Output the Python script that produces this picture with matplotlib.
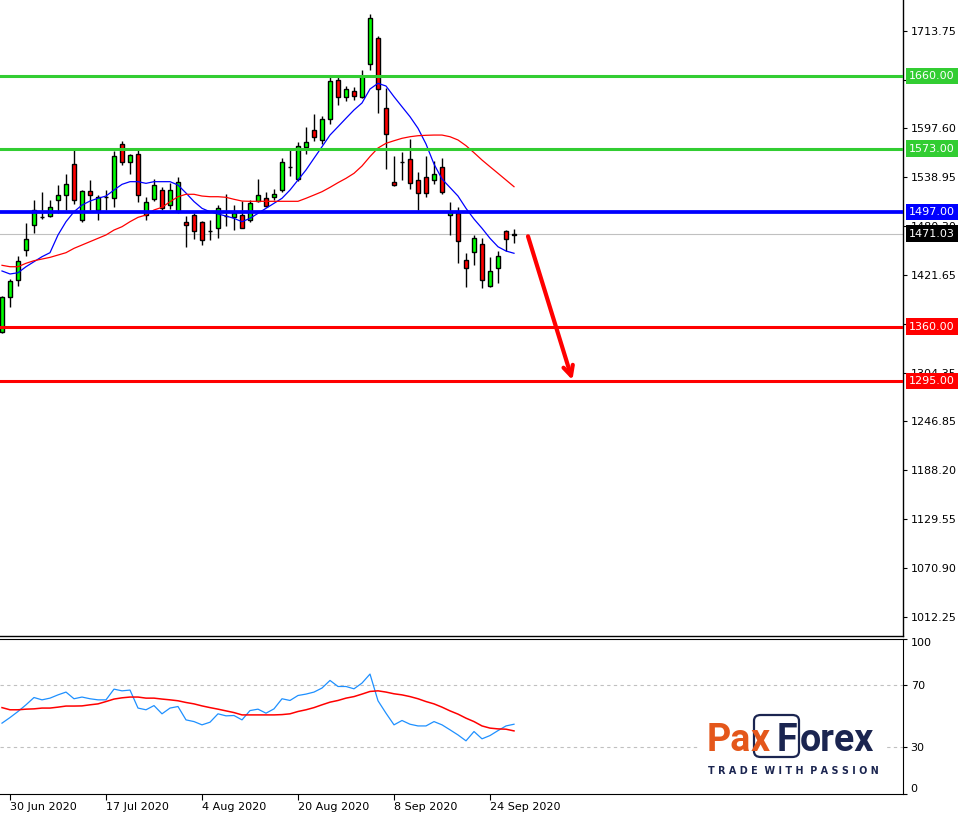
import matplotlib
matplotlib.use("Agg")
import matplotlib.pyplot as plt
import matplotlib.transforms as mtransforms
from matplotlib.patches import FancyBboxPatch, Rectangle
import numpy as np

# daily candles, 29 Jun 2020 .. 29 Sep 2020
opens = [1354, 1395, 1416, 1452, 1481, 1491, 1492, 1512, 1517, 1554,
         1487.5, 1522, 1500, 1515, 1514, 1578, 1557, 1566, 1494, 1513,
         1524, 1505, 1498, 1485, 1494, 1485, 1474, 1478, 1492, 1491.5,
         1493.5, 1487, 1510, 1514, 1514.5, 1523, 1551, 1537, 1575, 1595,
         1583, 1608, 1655, 1634.5, 1642, 1635, 1674, 1705, 1621, 1533,
         1557, 1560, 1535, 1538.5, 1535.5, 1550.5, 1493, 1496.5, 1439.5, 1449.5,
         1458.5, 1409, 1430.5, 1474, 1469]
highs = [1396, 1417, 1444, 1484, 1511, 1521, 1511, 1529, 1542, 1572.5,
         1523.5, 1535, 1517, 1523.5, 1570, 1582, 1567, 1571, 1515, 1537,
         1527, 1532, 1539, 1492, 1496, 1486, 1487, 1505, 1518.5, 1505,
         1510, 1512, 1537, 1521, 1525, 1562, 1572.5, 1581, 1598.5, 1614,
         1612, 1660, 1660, 1648, 1646.5, 1667, 1734, 1708, 1645, 1564,
         1569, 1584, 1544.5, 1564, 1558.5, 1561.5, 1509, 1502.5, 1448.5, 1469.5,
         1465.5, 1443.5, 1451, 1475, 1476.5]
lows = [1352, 1383, 1409, 1445, 1472, 1489, 1491.5, 1495.5, 1499.5, 1507,
        1485.5, 1499.5, 1488, 1499.5, 1503, 1553, 1543, 1509, 1488, 1510,
        1499.5, 1501, 1496, 1455, 1465, 1458, 1463, 1466, 1480, 1475,
        1478, 1485.5, 1509, 1503, 1512, 1521, 1540, 1534, 1566, 1582,
        1579, 1603, 1625, 1630, 1631, 1634, 1667, 1615, 1548, 1528.5,
        1535.5, 1525, 1499.5, 1515, 1531, 1518.5, 1470, 1436.5, 1407, 1433.5,
        1406.5, 1407.5, 1412.5, 1451, 1459.5]
closes = [1395, 1415, 1438, 1465, 1500, 1491, 1503, 1518, 1531, 1511,
          1522, 1517, 1515, 1515, 1564, 1557, 1565, 1517, 1509, 1530,
          1501.5, 1523, 1533, 1482, 1474, 1464, 1474.5, 1501.5, 1492, 1496,
          1478.5, 1507.5, 1517, 1504, 1518.5, 1556.5, 1551, 1576.5, 1580.5, 1587,
          1608, 1653.5, 1635, 1644, 1635.5, 1660, 1729, 1644, 1591, 1530,
          1557, 1532, 1520, 1519.5, 1542.5, 1520.5, 1497.5, 1462.5, 1429.5, 1465.5,
          1415.5, 1427, 1444, 1464.5, 1471.03]

ma_fast = [1426.5, 1422.9, 1424.4, 1431.6, 1437.6, 1443.6, 1448.4, 1469.6, 1485.5, 1497.4,
           1505.4, 1510.2, 1513.5, 1516.2, 1523.4, 1530.2, 1533.4, 1533.4, 1531.4, 1533.4,
           1533.4, 1533.4, 1529.4, 1519.8, 1509.6, 1501.5, 1497.4, 1494.7, 1492.3, 1489.5,
           1485.5, 1489.5, 1495.5, 1501.5, 1507.5, 1513.5, 1523.4, 1535.4, 1547.4, 1561.4,
           1575.2, 1589.2, 1599.2, 1609.3, 1619.2, 1627.6, 1644.3, 1651.1, 1647.9, 1635.1,
           1623.1, 1611.2, 1597.3, 1578.5, 1554.5, 1536.6, 1526.4, 1516.2, 1501.5, 1488.7,
           1477.6, 1465.6, 1455.5, 1450.4, 1447.7]
ma_slow = [1433.3, 1431.6, 1431.6, 1435.7, 1438.8, 1440.8, 1442.8, 1445.6, 1448.4, 1453.6,
           1457.6, 1461.6, 1465.6, 1469.6, 1475.5, 1479.5, 1485.5, 1490.7, 1493.5, 1499.5,
           1502.7, 1509.4, 1515.4, 1518.3, 1518.3, 1516.2, 1515.4, 1515.4, 1514.7, 1512.3,
           1510.2, 1509.9, 1509.9, 1509.9, 1509.9, 1509.9, 1509.9, 1509.9, 1513.5, 1517.4,
           1521.4, 1526.6, 1532.2, 1537.4, 1543.4, 1552.2, 1563.5, 1573.7, 1579.3, 1582.4,
           1585.3, 1587.2, 1588.4, 1588.9, 1589.2, 1589.2, 1587.2, 1583.3, 1576.5, 1568.1,
           1559.3, 1551.3, 1543.4, 1535.4, 1527.4]

rsi = [45.5, 49.1, 53.0, 57.3, 62.0, 60.5, 61.6, 63.7, 65.5, 61.2,
       62.3, 61.2, 60.5, 60.5, 67.4, 66.3, 66.8, 55.2, 54.1, 56.8,
       51.5, 55.2, 56.2, 47.6, 46.5, 44.4, 46.1, 51.5, 50.2, 50.4,
       47.6, 53.6, 54.5, 51.9, 54.7, 61.2, 60.1, 63.3, 64.2, 65.5,
       68.1, 73.0, 69.1, 69.1, 67.6, 71.3, 77.1, 59.9, 51.9, 44.4,
       47.2, 44.8, 43.7, 43.7, 46.5, 44.4, 41.2, 37.9, 34.1, 40.1,
       35.4, 37.5, 40.7, 43.7, 44.8]
rsi_signal = [55.5, 54.1, 54.1, 54.5, 54.7, 55.2, 55.2, 55.8, 56.5, 56.5,
              56.6, 57.3, 57.9, 59.4, 61.0, 61.8, 62.3, 62.3, 61.6, 61.6,
              61.0, 60.5, 59.9, 58.8, 57.9, 56.6, 55.5, 54.5, 53.4, 52.3,
              50.8, 50.8, 50.8, 50.8, 50.8, 51.0, 51.5, 53.0, 54.1, 55.5,
              57.3, 59.0, 60.1, 61.6, 62.6, 64.2, 65.9, 66.3, 65.5, 64.4,
              63.7, 62.6, 61.2, 59.4, 57.9, 55.8, 53.4, 51.3, 48.7, 46.5,
              43.7, 42.3, 41.8, 41.6, 40.5]

date_ticks = [1, 13, 25, 37, 49, 61]
date_labels = ["30 Jun 2020", "17 Jul 2020", "4 Aug 2020",
               "20 Aug 2020", "8 Sep 2020", "24 Sep 2020"]

price_ticks = [1713.75, 1655.10, 1597.60, 1538.95, 1480.30, 1421.65, 1363.00,
               1304.35, 1246.85, 1188.20, 1129.55, 1070.90, 1012.25]
levels = [1660.00, 1573.00, 1497.00, 1360.00, 1295.00]
level_colors = ["#32CD32", "#32CD32", "#0000FF", "#FF0000", "#FF0000"]
level_widths = [2.2, 2.2, 2.7, 2.2, 2.2]
last_price = 1471.03
arrow_start = (65.75, 1468.0)
arrow_end = (71.3, 1296.0)

W, H = 968, 814
fig = plt.figure(figsize=(W / 100, H / 100), dpi=100)
ax = fig.add_axes([0, (H - 636) / H, 903 / W, 636 / H])
ax2 = fig.add_axes([0, (H - 793.8) / H, 903 / W, (793.8 - 638.5) / H])

o = np.array(opens)
hi = np.array(highs)
lo = np.array(lows)
c = np.array(closes)
idx = np.arange(len(o))
up = c >= o

# candles
ax.axhline(last_price, color="#C0C0C0", lw=0.8, zorder=1)
ax.vlines(idx, lo, hi, color="black", lw=1, zorder=3)
ax.bar(idx, np.abs(c - o), bottom=np.minimum(o, c), width=0.62,
       color=np.where(up, "#00FF00", "#FF0000"), edgecolor="black",
       linewidth=1, zorder=4)
ax.plot(idx, ma_fast, color="#0000FF", lw=0.9, zorder=5)
ax.plot(idx, ma_slow, color="#FF0000", lw=0.9, zorder=5)

label_tr = mtransforms.blended_transform_factory(ax.transAxes, ax.transData)
for lev, col, lw in zip(levels, level_colors, level_widths):
    ax.axhline(lev, color=col, lw=lw, zorder=6)
    ax.text(1.0065, lev, f"{lev:.2f}", transform=label_tr, ha="left",
            va="center", color="white", fontsize=8, clip_on=False, zorder=10,
            bbox=dict(boxstyle="square,pad=0.3", fc=col, ec="none"))
ax.text(1.0065, last_price, f"{last_price:.2f}", transform=label_tr,
        ha="left", va="center", color="white", fontsize=8, clip_on=False,
        zorder=10, bbox=dict(boxstyle="square,pad=0.3", fc="black", ec="none"))

ax.annotate("", xy=arrow_end, xytext=arrow_start, annotation_clip=False,
            arrowprops=dict(arrowstyle="->,head_length=0.7,head_width=0.35",
                            color="#FF0000", lw=3, shrinkA=0, shrinkB=0),
            zorder=7)

ax.set_xlim(-0.25, 112.625)
ax.set_ylim(989.6, 1750.85)
ax.set_xticks([])
ax.yaxis.tick_right()
ax.set_yticks(price_ticks, [f"{v:.2f}" for v in price_ticks])
ax.tick_params(axis="y", direction="out", length=3, width=0.8, pad=2.5,
               labelsize=8, colors="black")
for s in ["left", "top"]:
    ax.spines[s].set_visible(False)
ax.spines["right"].set_linewidth(1)
ax.spines["bottom"].set_linewidth(1)

# RSI panel
ax2.axhline(70, color="#C0C0C0", lw=0.8, ls=(0, (3, 3)), zorder=1)
ax2.axhline(30, color="#C0C0C0", lw=0.8, ls=(0, (3, 3)), zorder=1)
ax2.plot(idx, rsi, color="#1E90FF", lw=0.9, zorder=3)
ax2.plot(idx, rsi_signal, color="#FF0000", lw=1.1, zorder=3)
ax2.set_xlim(-0.25, 112.625)
ax2.set_ylim(0, 100)
ax2.yaxis.tick_right()
ax2.set_yticks([0, 30, 70, 100], ["0", "30", "70", "100"])
for lab in ax2.get_yticklabels():
    if lab.get_text() == "100":
        lab.set_va("top")
    elif lab.get_text() == "0":
        lab.set_va("bottom")
ax2.tick_params(axis="y", direction="out", length=3, width=0.8, pad=2.5,
                labelsize=8)
ax2.set_xticks(date_ticks, date_labels)
for lab in ax2.get_xticklabels():
    lab.set_ha("left")
ax2.tick_params(axis="x", direction="out", length=4, width=0.8, pad=2,
                labelsize=8)
ax2.spines["left"].set_visible(False)


# logo
def fx(px):
    return px / W


def fy(py):
    return 1 - py / H


orange = "#E4571B"
navy = "#1B2550"
fig.add_artist(Rectangle((fx(700), fy(780)), fx(885) - fx(700), fy(710) - fy(780),
                         transform=fig.transFigure, fc="white", ec="none", zorder=8))
fig.add_artist(FancyBboxPatch((fx(754), fy(757)), fx(799) - fx(754), fy(715) - fy(757),
                              boxstyle="round,pad=0,rounding_size=0.007",
                              transform=fig.transFigure, fc="white", ec=navy,
                              lw=1.6, zorder=9))
logo_font = dict(family="Roboto", weight="bold", fontsize=27, va="baseline",
                 ha="left", zorder=10)
fig.text(fx(707), fy(751), "Pa", color=orange, **logo_font)
fig.text(fx(751), fy(751), "x", color=orange, **logo_font)
fig.text(fx(777), fy(751), "F", color=navy, **logo_font)
fig.text(fx(800), fy(751), "orex", color=navy, **logo_font)

fig.text(fx(708), fy(771), "T R A D E  W I T H  P A S S I O N", color=navy,
         fontsize=6.9, weight="bold", ha="left", va="center",
         family="DejaVu Sans", zorder=10)

fig.savefig("out.png", dpi=100)
